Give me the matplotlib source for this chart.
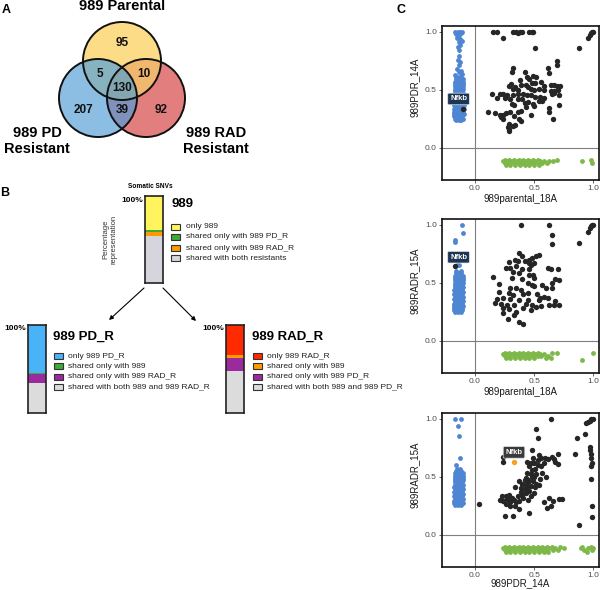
import numpy as np
import matplotlib
matplotlib.use('Agg')
import matplotlib.pyplot as plt
from matplotlib.patches import Circle, Rectangle
from matplotlib.colors import to_rgba

plt.rcParams['font.family'] = ['Liberation Sans', 'DejaVu Sans']

# ---------------- data ----------------
venn_labels = ['989 Parental', '989 PD\nResistant', '989 RAD\nResistant']
venn_regions = ['P', 'D', 'R', 'PD', 'PR', 'DR', 'PDR']
venn_values = [95, 207, 92, 5, 10, 39, 130]

bar_titles = ['989', '989 PD_R', '989 RAD_R']
bar989_labels = ['only 989', 'shared only with 989 PD_R', 'shared only with 989 RAD_R',
                 'shared with both resistants']
bar989_values = [95, 5, 10, 130]
barPD_labels = ['only 989 PD_R', 'shared only with 989', 'shared only with 989 RAD_R',
                'shared with both 989 and 989 RAD_R']
barPD_values = [207, 5, 39, 130]
barRAD_labels = ['only 989 RAD_R', 'shared only with 989', 'shared only with 989 PD_R',
                 'shared with both 989 and 989 PD_R']
barRAD_values = [92, 10, 39, 130]

sc_xlabels = ['989parental_18A', '989parental_18A', '989PDR_14A']
sc_ylabels = ['989PDR_14A', '989RADR_15A', '989RADR_15A']
sc_ticks = [0.0, 0.5, 1.0]
sc_ticklabels = ['0.0', '0.5', '1.0']
gene_label = 'Nfkb'

# panel 1 : 989parental_18A vs 989PDR_14A
black1 = [(0.15, 1.0), (0.19, 1.0), (0.24, 0.95), (0.32, 1.0), (0.35, 1.0), (0.365, 0.99), (0.38, 1.0),
          (0.40, 1.0), (0.46, 1.0), (0.48, 1.0), (0.49, 1.0), (0.51, 0.86), (0.88, 0.86),
          (0.96, 0.95), (0.97, 0.97), (0.98, 0.99), (0.99, 1.0), (1.0, 1.0),
          (0.69, 0.75), (0.69, 0.71), (0.62, 0.69), (0.63, 0.64), (0.325, 0.69), (0.31, 0.65), (0.42, 0.65),
          (0.44, 0.61), (0.46, 0.59), (0.49, 0.62), (0.52, 0.61), (0.38, 0.58), (0.48, 0.56), (0.51, 0.555),
          (0.56, 0.57), (0.58, 0.53), (0.64, 0.54), (0.67, 0.54), (0.69, 0.535), (0.72, 0.53), (0.305, 0.55),
          (0.29, 0.53), (0.32, 0.51), (0.34, 0.52), (0.365, 0.50), (0.39, 0.54), (0.43, 0.54), (0.45, 0.52),
          (0.47, 0.505), (0.50, 0.50), (0.54, 0.51), (0.585, 0.50), (0.64, 0.49), (0.67, 0.49), (0.70, 0.50),
          (0.14, 0.46), (0.21, 0.46), (0.24, 0.46), (0.27, 0.45), (0.32, 0.457), (0.36, 0.46), (0.41, 0.46),
          (0.44, 0.457), (0.47, 0.45), (0.51, 0.44), (0.55, 0.44), (0.58, 0.43), (0.65, 0.465), (0.67, 0.47),
          (0.71, 0.457), (0.19, 0.425), (0.25, 0.43), (0.30, 0.42), (0.365, 0.42), (0.40, 0.42), (0.45, 0.39),
          (0.49, 0.38), (0.54, 0.40), (0.57, 0.405), (0.31, 0.376), (0.33, 0.37), (0.42, 0.385), (0.50, 0.36),
          (0.43, 0.35), (0.63, 0.345), (0.71, 0.37), (0.11, 0.31), (0.17, 0.30), (0.21, 0.285), (0.24, 0.28),
          (0.26, 0.30), (0.30, 0.305), (0.36, 0.31), (0.39, 0.32), (0.47, 0.28), (0.63, 0.31), (0.66, 0.25),
          (0.22, 0.26), (0.24, 0.247), (0.33, 0.27), (0.37, 0.247), (0.39, 0.23), (0.285, 0.20), (0.28, 0.175),
          (0.32, 0.184), (0.34, 0.195), (0.29, 0.14), (0.29, 0.16), (-0.105, 0.33)]
blue1 = [(1.0, [-0.167, -0.144, -0.124, -0.11]), (0.98, [-0.16]), (0.97, [-0.133]), (0.99, [-0.116]),
         (0.95, [-0.153]), (0.94, [-0.124]), (0.92, [-0.11]), (0.91, [-0.138]), (0.89, [-0.124]),
         (0.87, [-0.144]), (0.84, [-0.133]), (0.79, [-0.138]), (0.76, [-0.144]), (0.74, [-0.124]),
         (0.71, [-0.133]), (0.68, [-0.153]), (0.66, [-0.116]), (0.65, [-0.138]), (0.635, [-0.11]),
         (0.63, [-0.167]),
         (0.61, [-0.160, -0.138, -0.118]), (0.59, [-0.165, -0.142, -0.120, -0.105]),
         (0.57, [-0.170, -0.148, -0.126, -0.106]), (0.55, [-0.168, -0.145, -0.122, -0.100]),
         (0.53, [-0.172, -0.150, -0.128, -0.106]), (0.51, [-0.170, -0.147, -0.124, -0.102]),
         (0.49, [-0.174, -0.152, -0.130, -0.108]), (0.47, [-0.171, -0.148, -0.125, -0.103]),
         (0.45, [-0.175, -0.153, -0.131, -0.109]), (0.43, [-0.172, -0.149, -0.126, -0.104]),
         (0.41, [-0.176, -0.154, -0.132, -0.110, -0.095]), (0.39, [-0.173, -0.150, -0.127, -0.104]),
         (0.37, [-0.177, -0.155, -0.133, -0.111, -0.092]), (0.35, [-0.174, -0.151, -0.128, -0.105]),
         (0.33, [-0.178, -0.156, -0.134, -0.112, -0.090]), (0.31, [-0.175, -0.152, -0.129, -0.106]),
         (0.29, [-0.178, -0.156, -0.134, -0.112, -0.092]), (0.27, [-0.176, -0.153, -0.130, -0.107]),
         (0.25, [-0.174, -0.151, -0.128, -0.105]), (0.235, [-0.165, -0.140, -0.117])]
green1 = [(-0.105, [0.25, 0.29, 0.33, 0.37, 0.41, 0.45, 0.49, 0.53, 0.69, 0.98]),
          (-0.12, [0.24, 0.27, 0.31, 0.35, 0.39, 0.43, 0.47, 0.51, 0.55, 0.58, 0.63, 0.66, 0.91]),
          (-0.135, [0.25, 0.29, 0.33, 0.37, 0.41, 0.45, 0.49, 0.53, 0.57, 0.61, 0.99]),
          (-0.15, [0.26, 0.30, 0.34, 0.38, 0.42, 0.46, 0.50, 0.54])]
label1 = (-0.14, 0.42)

# panel 2 : 989parental_18A vs 989RADR_15A
black2 = [(0.39, 1.0), (0.63, 1.0), (0.65, 0.91), (0.65, 0.83), (0.88, 0.84), (0.96, 0.94), (0.97, 0.97),
          (0.98, 0.99), (0.99, 1.0), (1.0, 1.0),
          (0.375, 0.76), (0.40, 0.73), (0.34, 0.70), (0.285, 0.68), (0.365, 0.69), (0.42, 0.69), (0.46, 0.70),
          (0.48, 0.715), (0.52, 0.73), (0.54, 0.74), (0.46, 0.67), (0.47, 0.65), (0.50, 0.67), (0.26, 0.63),
          (0.30, 0.63), (0.35, 0.64), (0.40, 0.62), (0.46, 0.62), (0.62, 0.63), (0.64, 0.615), (0.70, 0.615),
          (0.32, 0.595), (0.375, 0.58), (0.46, 0.57), (0.49, 0.57), (0.15, 0.55), (0.31, 0.54), (0.40, 0.53),
          (0.50, 0.54), (0.68, 0.53), (0.71, 0.52), (0.65, 0.50), (0.20, 0.49), (0.45, 0.50), (0.48, 0.48),
          (0.50, 0.47), (0.57, 0.48), (0.30, 0.45), (0.35, 0.45), (0.39, 0.44), (0.60, 0.45), (0.65, 0.45),
          (0.20, 0.42), (0.285, 0.41), (0.32, 0.39), (0.41, 0.40), (0.45, 0.41), (0.525, 0.40), (0.55, 0.37),
          (0.58, 0.38), (0.19, 0.36), (0.24, 0.37), (0.30, 0.36), (0.375, 0.35), (0.45, 0.35), (0.54, 0.35),
          (0.62, 0.37), (0.68, 0.34), (0.71, 0.31), (0.17, 0.325), (0.22, 0.32), (0.27, 0.305), (0.33, 0.31),
          (0.43, 0.32), (0.48, 0.305), (0.52, 0.29), (0.56, 0.30), (0.63, 0.305), (0.67, 0.305), (0.24, 0.28),
          (0.285, 0.27), (0.35, 0.25), (0.41, 0.28), (0.47, 0.26), (0.24, 0.24), (0.33, 0.225), (0.28, 0.19),
          (0.37, 0.16), (0.41, 0.145), (-0.17, 0.64)]
blue2 = [(1.0, [-0.11]), (0.93, [-0.105]), (0.87, [-0.167]), (0.85, [-0.172]), (0.65, [-0.153, -0.133]),
         (0.60, [-0.116, -0.160]),
         (0.58, [-0.165, -0.142, -0.120]), (0.56, [-0.170, -0.148, -0.126, -0.106]),
         (0.54, [-0.168, -0.145, -0.122, -0.102]), (0.52, [-0.172, -0.150, -0.128, -0.106]),
         (0.50, [-0.170, -0.147, -0.124, -0.102]), (0.48, [-0.174, -0.152, -0.130, -0.108]),
         (0.46, [-0.171, -0.148, -0.125, -0.103]), (0.44, [-0.175, -0.153, -0.131, -0.109]),
         (0.42, [-0.172, -0.149, -0.126, -0.104]), (0.40, [-0.176, -0.154, -0.132, -0.110]),
         (0.38, [-0.173, -0.150, -0.127, -0.104]), (0.36, [-0.177, -0.155, -0.133, -0.111]),
         (0.34, [-0.174, -0.151, -0.128, -0.105]), (0.32, [-0.178, -0.156, -0.134, -0.112]),
         (0.30, [-0.175, -0.152, -0.129, -0.106]), (0.28, [-0.178, -0.156, -0.134, -0.112]),
         (0.26, [-0.176, -0.153, -0.130, -0.107]), (0.245, [-0.170, -0.146, -0.122])]
green2 = [(-0.105, [0.25, 0.29, 0.33, 0.37, 0.41, 0.45, 0.49, 0.53, 0.65, 0.69, 1.0]),
          (-0.12, [0.24, 0.27, 0.31, 0.35, 0.39, 0.43, 0.47, 0.51, 0.55, 0.58]),
          (-0.135, [0.25, 0.29, 0.33, 0.37, 0.41, 0.45, 0.49, 0.53, 0.56, 0.62]),
          (-0.15, [0.26, 0.30, 0.34, 0.38, 0.42, 0.46, 0.50, 0.60, 0.64]),
          (-0.17, [0.91])]
label2 = (-0.14, 0.72)

# panel 3 : 989PDR_14A vs 989RADR_15A
black3 = [(0.64, 1.0), (0.52, 0.91), (0.53, 0.83), (0.48, 0.73), (0.94, 0.96), (0.955, 0.97), (0.97, 0.985),
          (0.98, 0.995), (1.0, 1.0), (0.93, 0.87), (0.86, 0.83), (0.85, 0.70), (0.88, 0.08),
          (0.97, 0.76), (0.975, 0.73), (0.98, 0.70), (0.985, 0.66), (0.99, 0.62), (0.985, 0.59),
          (0.98, 0.48), (0.99, 0.25), (0.99, 0.155),
          (0.24, 0.67), (0.24, 0.63), (0.54, 0.69), (0.56, 0.66), (0.59, 0.66), (0.62, 0.65), (0.65, 0.67),
          (0.67, 0.65), (0.70, 0.70), (0.68, 0.63), (0.70, 0.61), (0.44, 0.63), (0.47, 0.615), (0.50, 0.62),
          (0.53, 0.60), (0.56, 0.59), (0.46, 0.59), (0.48, 0.56), (0.51, 0.57), (0.57, 0.535), (0.60, 0.50),
          (0.44, 0.53), (0.47, 0.52), (0.50, 0.50), (0.43, 0.49), (0.45, 0.47), (0.49, 0.46), (0.52, 0.44),
          (0.40, 0.44), (0.43, 0.43), (0.47, 0.42), (0.51, 0.415), (0.54, 0.43), (0.37, 0.46), (0.34, 0.41),
          (0.385, 0.40), (0.42, 0.39), (0.46, 0.38), (0.50, 0.36), (0.43, 0.36), (0.40, 0.345), (0.47, 0.33),
          (0.41, 0.32), (0.45, 0.30), (0.37, 0.29), (0.33, 0.30), (0.285, 0.345), (0.26, 0.33), (0.23, 0.33),
          (0.21, 0.30), (0.24, 0.29), (0.285, 0.30), (0.31, 0.32), (0.35, 0.28), (0.26, 0.26), (0.30, 0.245),
          (0.34, 0.25), (0.37, 0.22), (0.46, 0.19), (0.25, 0.16), (0.32, 0.16), (0.03, 0.265), (0.63, 0.32),
          (0.66, 0.29), (0.58, 0.28), (0.61, 0.23), (0.64, 0.25), (0.71, 0.31), (0.74, 0.31),
          (0.42, 0.47), (0.45, 0.45), (0.48, 0.50), (0.52, 0.52), (0.55, 0.48), (0.39, 0.37), (0.36, 0.33),
          (0.30, 0.28), (0.27, 0.31), (0.44, 0.41), (0.53, 0.64), (0.58, 0.62), (0.49, 0.66)]
blue3 = [(1.0, [-0.167, -0.12]), (0.935, [-0.147]), (0.85, [-0.138]), (0.66, [-0.124]), (0.60, [-0.16]),
         (0.57, [-0.150, -0.128]), (0.55, [-0.165, -0.142, -0.120]),
         (0.53, [-0.170, -0.148, -0.126, -0.106]), (0.51, [-0.168, -0.145, -0.122, -0.102]),
         (0.49, [-0.172, -0.150, -0.128, -0.106]), (0.47, [-0.170, -0.147, -0.124, -0.102]),
         (0.45, [-0.174, -0.152, -0.130, -0.108]), (0.43, [-0.171, -0.148, -0.125, -0.103]),
         (0.41, [-0.175, -0.153, -0.131, -0.109]), (0.39, [-0.172, -0.149, -0.126, -0.104]),
         (0.37, [-0.176, -0.154, -0.132, -0.110]), (0.35, [-0.173, -0.150, -0.127, -0.104]),
         (0.33, [-0.177, -0.155, -0.133, -0.111]), (0.31, [-0.174, -0.151, -0.128, -0.105]),
         (0.29, [-0.178, -0.156, -0.134, -0.112]), (0.27, [-0.175, -0.152, -0.129, -0.106]),
         (0.255, [-0.170, -0.146, -0.122])]
green3 = [(-0.105, [0.25, 0.29, 0.33, 0.37, 0.41, 0.45, 0.49, 0.53, 0.57, 0.61, 0.65, 0.72, 0.91, 0.98]),
          (-0.12, [0.24, 0.27, 0.31, 0.35, 0.39, 0.43, 0.47, 0.51, 0.55, 0.59, 0.63, 0.68, 0.75, 0.90, 0.96, 1.0]),
          (-0.135, [0.25, 0.29, 0.33, 0.37, 0.41, 0.45, 0.49, 0.53, 0.57, 0.61, 0.66, 0.70, 0.92, 0.99]),
          (-0.15, [0.26, 0.30, 0.34, 0.38, 0.42, 0.46, 0.50, 0.54, 0.58, 0.62, 0.95])]
orange3 = [(0.33, 0.63)]
label3 = (0.33, 0.71)

# ---------------- figure ----------------
W, H = 600, 590
fig = plt.figure(figsize=(6, 5.9), dpi=100)


def px_axes(x, y, w, h):
    return fig.add_axes([x / W, 1 - (y + h) / H, w / W, h / H])


ov = px_axes(0, 0, W, H)
ov.set_xlim(0, W)
ov.set_ylim(H, 0)
ov.axis('off')

# ---- panel A : Venn ----
centers = {'P': (122, 61), 'D': (98, 98), 'R': (146, 98)}
rad = 39
region_colors = {'P': '#FCDD88', 'D': '#8CBDE3', 'R': '#E37E7E', 'PD': '#86B3BF',
                 'PR': '#F0B76E', 'DR': '#7F93BC', 'PDR': '#82A8B1'}
x0, x1, y0, y1 = 50, 195, 15, 145
step = 0.25
gx = np.arange(x0, x1, step) + step / 2
gy = np.arange(y0, y1, step) + step / 2
GX, GY = np.meshgrid(gx, gy)
inside = {k: (GX - c[0]) ** 2 + (GY - c[1]) ** 2 <= rad ** 2 for k, c in centers.items()}
img = np.zeros(GX.shape + (4,))
for code in venn_regions:
    m = np.ones(GX.shape, bool)
    for k in 'PDR':
        m &= inside[k] if k in code else ~inside[k]
    img[m] = to_rgba(region_colors[code])
ov.imshow(img, extent=(x0, x1, y1, y0), origin='upper', interpolation='bilinear', zorder=1)
ov.set_xlim(0, W)
ov.set_ylim(H, 0)
ov.set_aspect('auto')
for k, c in centers.items():
    ov.add_patch(Circle(c, rad, fill=False, ec='#111111', lw=1.4, zorder=2))
num_pos = {'P': (122, 43), 'D': (83, 110), 'R': (161, 110), 'PD': (100, 74), 'PR': (144, 74),
           'DR': (122, 110), 'PDR': (122, 88)}
for code, v in zip(venn_regions, venn_values):
    ov.text(*num_pos[code], str(v), ha='center', va='center', fontsize=8.5, fontweight='bold',
            color='#111111', zorder=3)
ov.text(122, 6, venn_labels[0], ha='center', va='center', fontsize=10.5, fontweight='bold')
ov.text(37, 141, venn_labels[1], ha='center', va='center', fontsize=10.5, fontweight='bold',
        linespacing=1.1)
ov.text(216, 141, venn_labels[2], ha='center', va='center', fontsize=10.5, fontweight='bold',
        linespacing=1.1)
ov.text(6, 10, 'A', ha='center', va='center', fontsize=9, fontweight='bold')

# ---- panel B : stacked bars ----
ov.text(5, 193, 'B', ha='center', va='center', fontsize=9, fontweight='bold')
ov.text(150, 186, 'Somatic SNVs', ha='center', va='center', fontsize=4.7, fontweight='bold')
ov.text(110, 239, 'Percentage\nrepresentation', ha='center', va='center', fontsize=5.5,
        rotation=90, color='#333333', linespacing=1.05)

bar_specs = [
    (bar989_values, bar989_labels, ['#FFF45E', '#3DAA3A', '#FF9A00', '#D6D5DE'], (145, 196, 18, 87),
     bar_titles[0], (172, 204), (171, 186), [227, 237, 248, 258]),
    (barPD_values, barPD_labels, ['#4AB3F8', '#3DAA3A', '#9B2A9E', '#DCDCDC'], (28, 325, 18, 88),
     bar_titles[1], (53, 337), (54, 68), [356, 366, 377, 387]),
    (barRAD_values, barRAD_labels, ['#FF2A00', '#FF9A00', '#9B2A9E', '#DCDCDC'], (226, 325, 18, 88),
     bar_titles[2], (252, 337), (253, 267), [356, 366, 377, 387]),
]
for vals, labs, cols, rect, title, tpos, lx, ly in bar_specs:
    bax = px_axes(*rect)
    total = float(sum(vals))
    fr = [v / total for v in vals]
    bottoms = [sum(fr[i + 1:]) for i in range(len(fr))]
    bax.bar([0] * len(fr), fr, bottom=bottoms, width=1.0, color=cols, edgecolor='none')
    bax.set_xlim(-0.5, 0.5)
    bax.set_ylim(0, 1)
    bax.set_xticks([])
    bax.set_yticks([])
    for s in bax.spines.values():
        s.set_linewidth(1.2)
        s.set_color('#222222')
    ov.text(rect[0] - 2, rect[1] + 4, '100%', ha='right', va='center', fontsize=6, fontweight='bold')
    ov.text(tpos[0], tpos[1], title, ha='left', va='center', fontsize=9.5, fontweight='bold')
    for lab, col, yy in zip(labs, cols, ly):
        ov.add_patch(Rectangle((lx[0], yy - 3.3), 9, 6.6, fc=col, ec='#333333', lw=0.8))
        ov.text(lx[1], yy, lab, ha='left', va='center', fontsize=6, color='#222222')

ov.annotate('', xy=(109, 320), xytext=(144, 288),
            arrowprops=dict(arrowstyle='-|>', lw=0.8, color='k', mutation_scale=6, shrinkA=0, shrinkB=0))
ov.annotate('', xy=(196, 321), xytext=(163, 288),
            arrowprops=dict(arrowstyle='-|>', lw=0.8, color='k', mutation_scale=6, shrinkA=0, shrinkB=0))

# ---- panel C : scatter plots ----
ov.text(401, 10, 'C', ha='center', va='center', fontsize=9, fontweight='bold')

BLUE, GREEN, BLACK = '#4F86D3', '#7DB849', '#262626'
panels = [
    (26, black1, blue1, green1, [], label1, '#1E3453', -0.088),
    (219, black2, blue2, green2, [], label2, '#1E3453', -0.088),
    (413, black3, blue3, green3, orange3, label3, '#3A3A3A', -0.072),
]
for i, (top, blk, blu, grn, org, lab, labc, xl_y) in enumerate(panels):
    ax = px_axes(442, top, 157, 154)
    ax.set_xlim(-0.28, 1.05)
    ax.set_ylim(-0.28, 1.05)
    ax.axhline(0, color='#7F7F7F', lw=0.8, zorder=1)
    ax.axvline(0, color='#7F7F7F', lw=0.8, zorder=1)
    bx = [x for y, xs in blu for x in xs]
    by = [y for y, xs in blu for x in xs]
    ax.scatter(bx, by, s=12, color=BLUE, lw=0, zorder=2)
    gxs = [x for y, xs in grn for x in xs]
    gys = [y for y, xs in grn for x in xs]
    ax.scatter(gxs, gys, s=12, color=GREEN, lw=0, zorder=2)
    ax.scatter([p[0] for p in blk], [p[1] for p in blk], s=15, color=BLACK, lw=0, zorder=3)
    if org:
        ax.scatter([p[0] for p in org], [p[1] for p in org], s=15, color='#F5A21E', lw=0, zorder=4)
    ax.text(lab[0], lab[1], gene_label, ha='center', va='center', fontsize=5.5, color='white',
            fontweight='bold', zorder=5,
            bbox=dict(boxstyle='round,pad=0.3,rounding_size=0.15', fc=labc, ec='#DDE3EA', lw=0.5))
    ax.set_xticks(sc_ticks)
    ax.set_xticklabels(sc_ticklabels)
    ax.set_yticks(sc_ticks)
    ax.set_yticklabels(sc_ticklabels)
    ax.tick_params(labelsize=6, colors='#4D4D4D', length=2.5, width=0.6, pad=1.2)
    for s in ax.spines.values():
        s.set_linewidth(1.2)
        s.set_color('#111111')
    ax.set_xlabel(sc_xlabels[i], fontsize=7, color='#1A1A1A')
    ax.xaxis.set_label_coords(0.5, xl_y)
    ax.set_ylabel(sc_ylabels[i], fontsize=7, color='#1A1A1A')
    ax.yaxis.set_label_coords(-0.14, 0.6)

fig.savefig('out.png', dpi=100)
